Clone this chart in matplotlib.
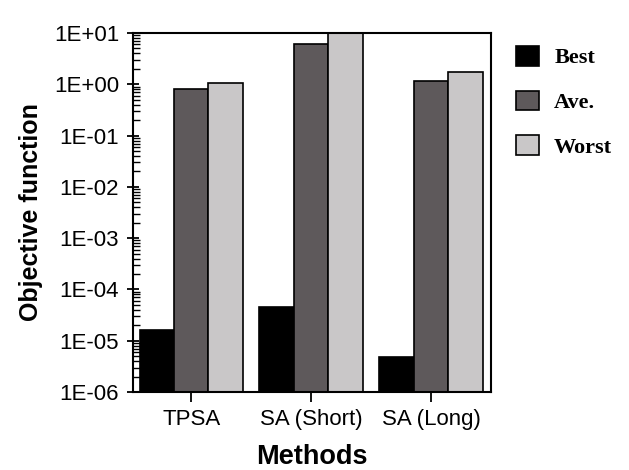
import numpy as np
import matplotlib.pyplot as plt
from matplotlib.ticker import LogLocator, FixedLocator, FuncFormatter, NullFormatter

methods = ['TPSA', 'SA (Short)', 'SA (Long)']
best = [1.5e-5, 4.5e-5, 3.9e-6]
ave = [0.8, 6.0, 1.15]
worst = [1.05, 10.0, 1.7]
series_names = ['Best', 'Ave.', 'Worst']
colors = ['#000000', '#5e595b', '#c9c7c8']

fig = plt.figure(figsize=(6.29, 4.70), dpi=100)
ax = fig.add_axes([0.2114, 0.166, 0.5692, 0.7638])

x = np.arange(len(methods))
w = 0.287
for i, (vals, name, c) in enumerate(zip([best, ave, worst], series_names, colors)):
    ax.bar(x + (i - 1) * w, vals, width=w, bottom=1e-6, color=c,
           edgecolor='black', linewidth=1.2, label=name)

ax.set_yscale('log')
ax.set_ylim(1e-6, 1e1)
ax.set_xlim(-0.485, 2.5)

ax.yaxis.set_major_locator(FixedLocator([10.0 ** k for k in range(-6, 2)]))
ax.yaxis.set_major_formatter(FuncFormatter(lambda v, p: '1E%+03d' % int(round(np.log10(v)))))
ax.yaxis.set_minor_locator(LogLocator(base=10, subs=np.arange(2, 10)))
ax.yaxis.set_minor_formatter(NullFormatter())
ax.tick_params(axis='y', which='major', direction='inout', length=8, width=1.3,
               labelsize=16, pad=6)
ax.tick_params(axis='y', which='minor', direction='in', length=5, width=1)

ax.set_xticks(x)
ax.set_xticklabels(methods)
ax.tick_params(axis='x', direction='out', length=7, width=1.3, labelsize=16, pad=5)

for s in ax.spines.values():
    s.set_linewidth(1.5)

for lab in ax.get_xticklabels() + ax.get_yticklabels():
    lab.set_family('Liberation Sans')

ax.set_ylabel('Objective function', fontsize=18, fontweight='bold',
              family='Liberation Sans', labelpad=8)
ax.set_xlabel('Methods', fontsize=19.5, fontweight='bold',
              family='Liberation Sans', labelpad=10)

leg = ax.legend(loc='upper left', bbox_to_anchor=(1.015, 1.02), frameon=False,
                handlelength=1.0, handleheight=1.0, labelspacing=1.0,
                handletextpad=0.7, prop={'family': 'Liberation Serif',
                                         'weight': 'bold', 'size': 16})

fig.savefig('out.png', dpi=100)
